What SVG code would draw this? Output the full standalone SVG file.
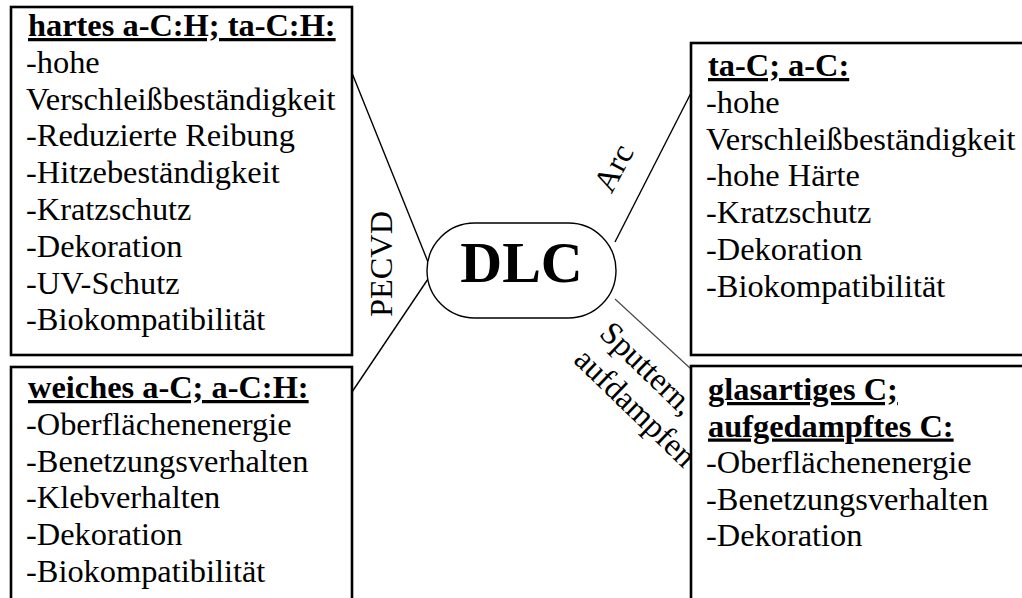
<svg xmlns="http://www.w3.org/2000/svg" width="1022" height="598" viewBox="0 0 1022 598">
  <style>
    .box { fill: #ffffff; stroke: #000000; stroke-width: 2.6; }
    .t { font-family: "Liberation Serif", "Times New Roman", serif; font-size: 32.4px; fill: #000000; }
    .h { font-weight: bold; text-decoration: underline; }
    .conn { stroke: #000000; stroke-width: 1.4; fill: none; }
    .thin { stroke: #444444; stroke-width: 1.1; fill: none; }
  </style>
  <rect width="1022" height="598" fill="#ffffff"/>

  <g id="connectors">
    <line class="conn" x1="352" y1="73" x2="428" y2="262"/>
    <line class="conn" x1="428" y1="279" x2="352" y2="392"/>
    <line class="conn" x1="615" y1="242" x2="691" y2="93"/>
    <line class="thin" x1="615" y1="299" x2="691" y2="369"/>
    <text class="t" transform="translate(392,264) rotate(-90)" text-anchor="middle">PECVD</text>
    <text class="t" transform="translate(623,173) rotate(-62)" text-anchor="middle">Arc</text>
    <g transform="translate(598,335) rotate(44)">
      <text class="t" x="0" y="0">Sputtern,</text>
      <text class="t" x="0" y="36.8">aufdampfen</text>
    </g>
  </g>

  <g id="node-dlc">
    <rect x="427" y="223" width="189" height="95" rx="47.5" ry="47.5" fill="#ffffff" stroke="#000000" stroke-width="1.4"/>
    <text x="521.5" y="282" text-anchor="middle" font-family="Liberation Serif, Times New Roman, serif" font-size="58" font-weight="bold">DLC</text>
  </g>

  <g id="node-hartes">
    <rect class="box" x="11" y="7" width="341" height="348"/>
    <text class="t h" x="28" y="36">hartes a-C:H; ta-C:H:</text>
    <text class="t" x="26" y="72.8">-hohe</text>
    <text class="t" x="26" y="109.6">Verschleißbeständigkeit</text>
    <text class="t" x="26" y="146.4">-Reduzierte Reibung</text>
    <text class="t" x="26" y="183.2">-Hitzebeständigkeit</text>
    <text class="t" x="26" y="220">-Kratzschutz</text>
    <text class="t" x="26" y="256.8">-Dekoration</text>
    <text class="t" x="26" y="293.6">-UV-Schutz</text>
    <text class="t" x="26" y="330.4">-Biokompatibilität</text>
  </g>

  <g id="node-weiches">
    <rect class="box" x="11" y="367" width="341" height="250"/>
    <text class="t h" x="28" y="398">weiches a-C; a-C:H:</text>
    <text class="t" x="26" y="434.8">-Oberflächenenergie</text>
    <text class="t" x="26" y="471.6">-Benetzungsverhalten</text>
    <text class="t" x="26" y="508.4">-Klebverhalten</text>
    <text class="t" x="26" y="545.2">-Dekoration</text>
    <text class="t" x="26" y="582">-Biokompatibilität</text>
  </g>

  <g id="node-taC">
    <rect class="box" x="691" y="43" width="360" height="312"/>
    <text class="t h" x="708" y="76">ta-C; a-C:</text>
    <text class="t" x="706" y="112.8">-hohe</text>
    <text class="t" x="706" y="149.6">Verschleißbeständigkeit</text>
    <text class="t" x="706" y="186.4">-hohe Härte</text>
    <text class="t" x="706" y="223.2">-Kratzschutz</text>
    <text class="t" x="706" y="260">-Dekoration</text>
    <text class="t" x="706" y="296.8">-Biokompatibilität</text>
  </g>

  <g id="node-glas">
    <rect class="box" x="691" y="366" width="360" height="260"/>
    <text class="t h" x="708" y="400">glasartiges C;</text>
    <text class="t h" x="708" y="436.5">aufgedampftes C:</text>
    <text class="t" x="706" y="473">-Oberflächenenergie</text>
    <text class="t" x="706" y="509.5">-Benetzungsverhalten</text>
    <text class="t" x="706" y="546">-Dekoration</text>
  </g>
</svg>
